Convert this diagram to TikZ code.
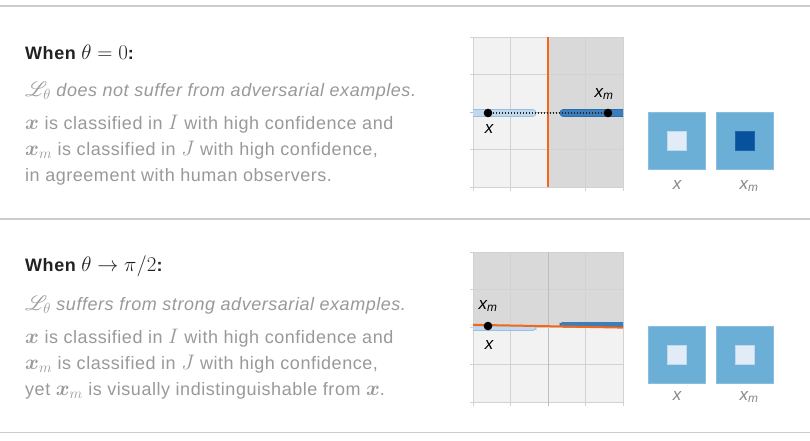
\documentclass[tikz,border=0pt]{standalone}
\usepackage{fix-cm}
\usepackage[no-math]{fontspec}
\setmainfont{Liberation Sans}[LetterSpace=3]
\newfontfamily\labfont{Liberation Sans}
\usepackage{amsmath,bm}
\usepackage{mathrsfs}
\newcommand{\Mth}[1]{{\fontsize{21}{22}\selectfont$#1$}}
\definecolor{sepc}{HTML}{CCCCCC}
\definecolor{headc}{HTML}{222222}
\definecolor{bodyc}{HTML}{999999}
\definecolor{lightbg}{HTML}{F2F2F2}
\definecolor{darkbg}{HTML}{D9D9D9}
\definecolor{gridc}{HTML}{D2D2D2}
\definecolor{axisc}{HTML}{BDBDBD}
\definecolor{orangec}{RGB}{245,103,24}
\definecolor{lbar}{HTML}{C0D8EE}
\definecolor{lbarb}{HTML}{9DBFDF}
\definecolor{dbar}{HTML}{3A7EBD}
\definecolor{dbarb}{HTML}{2E6DA8}
\definecolor{sqout}{HTML}{6BAED6}
\definecolor{sqin}{HTML}{E1ECF7}
\definecolor{sqdark}{HTML}{08519C}
\definecolor{labc}{HTML}{888888}
\tikzset{
  sepline/.style={draw=sepc, line width=1.3pt},
  head/.style={anchor=base west, inner sep=0pt, text=headc, font=\fontsize{18}{20}\selectfont\bfseries},
  body/.style={anchor=base west, inner sep=0pt, text=bodyc, font=\fontsize{18}{20}\selectfont},
  gridl/.style={draw=gridc, line width=0.8pt},
  axisl/.style={draw=axisc, line width=0.8pt},
  orangel/.style={draw=orangec, line width=2pt},
  lightbar/.style={fill=lbar, draw=lbarb, line width=0.6pt, rounded corners=3pt},
  darkbar/.style={fill=dbar, draw=dbarb, line width=0.6pt, rounded corners=3pt},
  pt/.style={circle, fill=black, inner sep=0pt, minimum size=8.6pt},
  plab/.style={inner sep=0pt, text=black, font=\labfont\fontsize{17}{19}\selectfont\itshape},
  slab/.style={inner sep=0pt, text=labc, font=\labfont\fontsize{17}{19}\selectfont\itshape},
  outsq/.style={fill=sqout, draw=sqout!80!white, line width=0.6pt},
  insq/.style={draw=sqin!70!sqout, line width=0.6pt},
}
\begin{document}
\begin{tikzpicture}[x=1pt,y=-1pt]
\useasboundingbox[fill=white] (0,0) rectangle (810,440);
% separators
\draw[sepline] (0,6) -- (810,6);
\draw[sepline] (0,219) -- (810,219);
\draw[sepline] (0,432.5) -- (810,432.5);

% ---------- top text ----------
\node[head] (h1) at (25,59) {When \Mth{\theta = 0}:};
\node[body] (a1) at (25,96.5) {\Mth{\mathscr{L}_\theta} \itshape does not suffer from adversarial examples.};
\node[body] (a2) at (25,129) {\Mth{\bm{x}} is classified in \Mth{I} with high confidence and};
\node[body] (a3) at (25,155.5) {\Mth{\bm{x}_m} is classified in \Mth{J} with high confidence,};
\node[body] (a4) at (25,181.5) {in agreement with human observers.};

% ---------- bottom text ----------
\node[head] (h2) at (25,271.5) {When \Mth{\theta \to \pi/2}:};
\node[body] (b1) at (25,310) {\Mth{\mathscr{L}_\theta} \itshape suffers from strong adversarial examples.};
\node[body] (b2) at (25,343) {\Mth{\bm{x}} is classified in \Mth{I} with high confidence and};
\node[body] (b3) at (25,369) {\Mth{\bm{x}_m} is classified in \Mth{J} with high confidence,};
\node[body] (b4) at (25,395) {yet \Mth{\bm{x}_m} is visually indistinguishable from \Mth{\bm{x}}.};

% ---------- top plot ----------
\fill[lightbg] (473,37) rectangle (548,187);
\fill[darkbg] (548,37) rectangle (623,187);
\foreach \gx in {473,510.5,585.5,623} \draw[gridl] (\gx,37) -- (\gx,190.5);
\foreach \gy in {37,74.5,149.5,187} \draw[gridl] (469.5,\gy) -- (623,\gy);
\draw[axisl] (469.5,112) -- (623,112);
\begin{scope}
\clip (473,37) rectangle (623,187);
\draw[lightbar] (465,109.5) rectangle (536,116.5);
\draw[darkbar] (560,109.5) rectangle (632,116.5);
\end{scope}
\draw[orangel] (548,37) -- (548,187);
\node[pt] (p1) at (488,113) {};
\node[pt] (p2) at (608,113) {};
\draw[black!85, line width=1.2pt, dash pattern=on 1.8pt off 1.2pt] (p1) -- (p2);
\node[plab] (l1) at (489,129) {x};
\node[plab] (l2) at (604,94) {x\textsubscript{m}};

% ---------- bottom plot ----------
\fill[lightbg] (473,252) rectangle (623,402);
\fill[darkbg] (473,252) -- (623,252) -- (623,327.5) -- (473,324.5) -- cycle;
\foreach \gx in {473,510.5,585.5,623} \draw[gridl] (\gx,252) -- (\gx,405.5);
\foreach \gy in {252,289.5,364.5,402} \draw[gridl] (469.5,\gy) -- (623,\gy);
\draw[axisl] (548,252) -- (548,405.5);
\draw[gridl] (469.5,327) -- (623,327);
\begin{scope}
\clip (473,252) rectangle (623,402);
\draw[lightbar] (465,326) rectangle (536,330.5);
\draw[darkbar] (560,322.3) rectangle (632,327);
\end{scope}
\draw[orangel] (473,324.8) -- (623,327.6);
\node[pt] (p3) at (488,326) {};
\node[plab] (l3) at (488,306) {x\textsubscript{m}};
\node[plab] (l4) at (489,345) {x};

% ---------- top squares ----------
\node[outsq, minimum size=57pt, inner sep=0pt] (s1) at (676.5,140.5) {};
\node[insq, fill=sqin, minimum size=19pt, inner sep=0pt] (i1) at (s1.center) {};
\node[outsq, minimum size=57pt, inner sep=0pt] (s2) at (745,140.5) {};
\node[insq, fill=sqdark, draw=sqdark!80!sqout, minimum size=19pt, inner sep=0pt] (i2) at (s2.center) {};
\node[slab] (c1) at (677,185) {x};
\node[slab] (c2) at (749,186) {x\textsubscript{m}};

% ---------- bottom squares ----------
\node[outsq, minimum size=57pt, inner sep=0pt] (s3) at (676.5,354.5) {};
\node[insq, fill=sqin, minimum size=19pt, inner sep=0pt] (i3) at (s3.center) {};
\node[outsq, minimum size=57pt, inner sep=0pt] (s4) at (745,354.5) {};
\node[insq, fill=sqin, minimum size=19pt, inner sep=0pt] (i4) at (s4.center) {};
\node[slab] (c3) at (677,396) {x};
\node[slab] (c4) at (749,397) {x\textsubscript{m}};
\end{tikzpicture}
\end{document}
